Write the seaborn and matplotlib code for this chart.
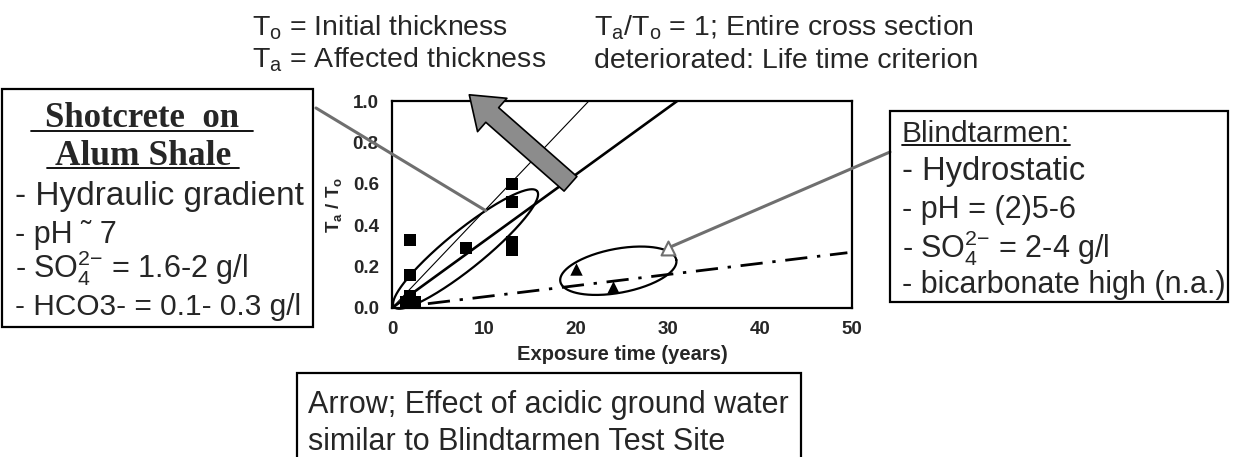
import numpy as np
import pandas as pd
import matplotlib
matplotlib.use("Agg")
import matplotlib.pyplot as plt
import seaborn as sns
from matplotlib.patches import Rectangle, FancyArrowPatch, ArrowStyle
from matplotlib.lines import Line2D

# ---------------- data ----------------
shot_years = [2, 2, 8, 13, 13, 13, 13, 1.5, 2.0, 2.5, 2.0]
shot_ratio = [0.33, 0.16, 0.29, 0.60, 0.51, 0.32, 0.28, 0.03, 0.06, 0.03, 0.02]
blind_years = [20, 24]
blind_ratio = [0.19, 0.10]
blind_open_years = [30]
blind_open_ratio = [0.29]
thin_fit_years = [0, 21.4]
thin_fit_ratio = [0.0, 1.0]
thick_fit_years = [0, 31.0]
thick_fit_ratio = [0.0, 1.0]
blind_fit_years = [3.9, 49.5]
blind_fit_ratio = [0.021, 0.267]
x_ticks = [0, 10, 20, 30, 40, 50]
y_ticks = [0.0, 0.2, 0.4, 0.6, 0.8, 1.0]
x_tick_labels = ["0", "10", "20", "30", "40", "50"]
y_tick_labels = ["0.0", "0.2", "0.4", "0.6", "0.8", "1.0"]

# ---------------- style ----------------
sns.set_style("white")
plt.rcParams["font.family"] = ["Liberation Sans", "DejaVu Sans"]
plt.rcParams["mathtext.fontset"] = "custom"
plt.rcParams["mathtext.rm"] = "Liberation Sans"
plt.rcParams["mathtext.it"] = "Liberation Sans:italic"
plt.rcParams["mathtext.bf"] = "Liberation Sans:bold"
plt.rcParams["mathtext.sf"] = "Liberation Sans"

W, H = 1243, 457
fig = plt.figure(figsize=(W / 100, H / 100), dpi=100)


def fx(x):
    return x / W


def fy(y):
    return 1 - y / H


# axes: left 392, right 852, top 101, bottom 308 (pixels)
ax = fig.add_axes([fx(392), fy(308), (852 - 392) / W, (308 - 101) / H])
ax.set_xlim(0, 50)
ax.set_ylim(0, 1.0)
for s in ax.spines.values():
    s.set_color("black")
    s.set_linewidth(1.6)
    s.set_visible(True)
ax.set_xticks(x_ticks)
ax.set_xticklabels(x_tick_labels, fontsize=13.5, fontweight="bold")
ax.set_yticks(y_ticks)
ax.set_yticklabels(y_tick_labels, fontsize=13.5, fontweight="bold")
ax.tick_params(length=0, pad=9.5)
ax.set_xlabel("Exposure time (years)", fontsize=14.5, fontweight="bold")
ax.xaxis.set_label_coords(0.5, -0.18)
ax.set_ylabel(r"T$_\mathbf{a}$ / T$_\mathbf{o}$", fontsize=13.5, fontweight="bold")
ax.yaxis.set_label_coords(-0.105, 0.5)

# fit lines
sns.lineplot(x=thin_fit_years, y=thin_fit_ratio, color="black", lw=0.8, ax=ax, sort=False)
sns.lineplot(x=thick_fit_years, y=thick_fit_ratio, color="black", lw=1.9, ax=ax, sort=False)
sns.lineplot(x=blind_fit_years, y=blind_fit_ratio, color="black", lw=2.0, ax=ax,
             sort=False, linestyle=(0, (8, 3.5, 1.2, 3.5)))

# data points
sns.scatterplot(x=shot_years, y=shot_ratio, marker="s", s=78, color="black",
                edgecolor="black", linewidth=0, ax=ax, zorder=5)
sns.scatterplot(x=blind_years, y=blind_ratio, marker="^", s=80, color="black",
                edgecolor="black", linewidth=0, ax=ax, zorder=5)


# ellipses defined in pixel space around data-space centres
def draw_ellipse(center, a_px, b_px, ang_deg, **kw):
    cx, cy = ax.transData.transform(center)
    t = np.linspace(0, 2 * np.pi, 300)
    th = np.deg2rad(ang_deg)
    dx = a_px * np.cos(t) * np.cos(th) - b_px * np.sin(t) * np.sin(th)
    dy = a_px * np.cos(t) * np.sin(th) + b_px * np.sin(t) * np.cos(th)
    pts = ax.transData.inverted().transform(np.column_stack([cx + dx, cy + dy]))
    ax.plot(pts[:, 0], pts[:, 1], **kw)


draw_ellipse((8.0, 0.285), 92, 19, 39, color="black", lw=1.6, clip_on=False)
draw_ellipse((24.6, 0.18), 59, 22, 10.6, color="black", lw=1.6, clip_on=False)

gray = "#6f6f6f"
# connector from left box
ax.annotate("", xy=(10.2, 0.47), xycoords="data",
            xytext=(316, H - 108), textcoords="figure pixels",
            arrowprops=dict(arrowstyle="-", color=gray, lw=2.2,
                            shrinkA=0, shrinkB=0), annotation_clip=False)
# connector from right box
ax.annotate("", xy=(blind_open_years[0], blind_open_ratio[0]), xycoords="data",
            xytext=(890, H - 152), textcoords="figure pixels",
            arrowprops=dict(arrowstyle="-", color=gray, lw=2.2,
                            shrinkA=0, shrinkB=0), annotation_clip=False)
sns.scatterplot(x=blind_open_years, y=blind_open_ratio, marker="^", s=100,
                facecolor="white", edgecolor=gray, linewidth=1.5, ax=ax, zorder=6)

# big gray arrow
big = FancyArrowPatch((19.4, 0.60), (8.4, 1.03),
                      arrowstyle=ArrowStyle.Simple(head_length=22, head_width=32, tail_width=14),
                      mutation_scale=1, fc="#8c8c8c", ec="black", lw=1.2,
                      shrinkA=0, shrinkB=0, transform=ax.transData, clip_on=False, zorder=7)
ax.add_patch(big)

# ---------------- boxes ----------------
def box(x0, y0, x1, y1):
    r = Rectangle((fx(x0), fy(y1)), fx(x1) - fx(x0), fy(y0) - fy(y1),
                  transform=fig.transFigure, fill=False, ec="black", lw=1.6, clip_on=False)
    fig.add_artist(r)


box(2, 89, 313, 327)
box(890, 111, 1228, 302)
box(297, 373, 801, 470)

# ---------------- texts ----------------
def ftxt(x, y, s, size, **kw):
    return fig.text(fx(x), fy(y), s, fontsize=size, va="baseline", **kw)


# top
ftxt(252, 35, r"T$_\mathrm{o}$ = Initial thickness", 20.5)
ftxt(252, 68, r"T$_\mathrm{a}$ = Affected thickness", 20.5)
ftxt(594, 35, r"T$_\mathrm{a}$/T$_\mathrm{o}$ = 1; Entire cross section", 20.5)
ftxt(594, 68, "deteriorated: Life time criterion", 20.5)

# left box
t1 = ftxt(142, 127, "Shotcrete  on", 25, ha="center", fontweight="bold",
          family=["Liberation Serif", "DejaVu Serif"])
t2 = ftxt(143, 165, "Alum Shale", 25.5, ha="center", fontweight="bold",
          family=["Liberation Serif", "DejaVu Serif"])
ftxt(15, 205, "- Hydraulic gradient", 24)
ftxt(15, 243, "- pH \u02dc 7", 22)
ftxt(15, 278, r"- SO$_4^{2\mathrm{-}}$ = 1.6-2 g/l", 22)
ftxt(15, 315, "- HCO3- = 0.1- 0.3 g/l", 21.5)

# right box
t3 = ftxt(902, 142, "Blindtarmen:", 21.5)
ftxt(902, 180, "- Hydrostatic", 23.5)
ftxt(902, 218, "- pH = (2)5-6", 22)
ftxt(902, 257, r"- SO$_4^{2\mathrm{-}}$ = 2-4 g/l", 22)
ftxt(902, 293, "- bicarbonate high (n.a.)", 22)

# bottom box
ftxt(308, 413, "Arrow; Effect of acidic ground water", 22)
ftxt(308, 450, "similar to Blindtarmen Test Site", 22)

# underlines
fig.canvas.draw()
ren = fig.canvas.get_renderer()
for t, uy, ext in [(t1, 131, 14), (t2, 168, 8), (t3, 145, 0)]:
    bb = t.get_window_extent(renderer=ren)
    fig.add_artist(Line2D([fx(bb.x0 - ext), fx(bb.x1 + ext)], [fy(uy), fy(uy)],
                          transform=fig.transFigure, color="black", lw=1.3))

fig.savefig("out.png", dpi=100)
